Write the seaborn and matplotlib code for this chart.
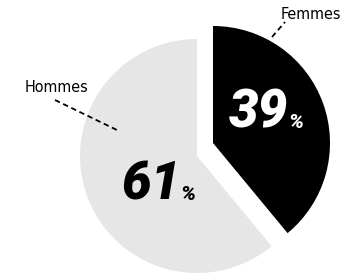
import matplotlib
matplotlib.use("Agg")
import matplotlib.pyplot as plt
import seaborn as sns

sns.set_theme(style="white")

labels = ["Femmes", "Hommes"]
values = [39, 61]
colors = ["#000000", "#e6e6e6"]

W, H = 344, 275
fig = plt.figure(figsize=(W / 100, H / 100), dpi=100)
ax = fig.add_axes([0, 0, 1, 1])

def Y(y):
    return H - y

wedges, _ = ax.pie(values, colors=colors, startangle=90, counterclock=False,
                   center=(197, Y(156)), radius=117,
                   wedgeprops=dict(linewidth=0))
# pull the "Femmes" slice out
wedges[0].set_center((213, Y(143)))

ax.set_xlim(0, W)
ax.set_ylim(0, H)
ax.set_aspect("equal")
ax.axis("off")

big = dict(family="Roboto", fontweight="heavy", fontstyle="italic")
ax.text(288, Y(127), f"{values[0]}", color="white", fontsize=38, ha="right", va="baseline", **big)
ax.text(288, Y(127.5), "%", color="white", fontsize=15, ha="left", va="baseline", **big)
ax.text(181, Y(200), f"{values[1]}", color="black", fontsize=38, ha="right", va="baseline", **big)
ax.text(180, Y(199.5), "%", color="black", fontsize=15, ha="left", va="baseline", **big)

lab = dict(family="DejaVu Sans", fontstretch="condensed", fontweight="normal",
           fontsize=11.5, color="black")
ax.text(341, Y(19), labels[0], ha="right", va="baseline", **lab)
ax.text(56, Y(92), labels[1], ha="center", va="baseline", **lab)

ax.plot([272, 285], [Y(37), Y(22)], color="black", lw=1.3, ls=(0, (3, 2)))
ax.plot([55, 119], [Y(100), Y(131)], color="black", lw=1.3, ls=(0, (3, 2)))

fig.savefig("out.png", dpi=100)
